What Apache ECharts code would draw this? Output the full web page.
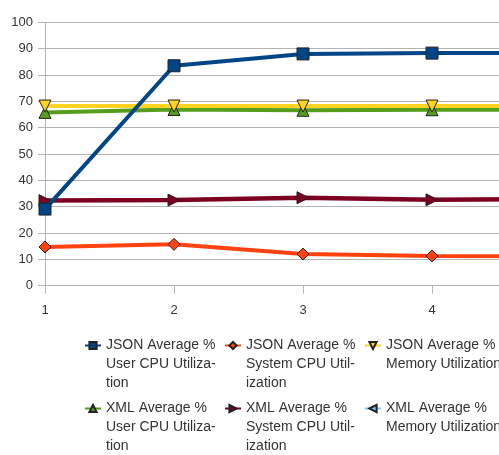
<!DOCTYPE html>
<html>
<head>
<meta charset="utf-8">
<script src="https://cdn.jsdelivr.net/npm/echarts@6/dist/echarts.min.js"></script>
<style>
html,body{margin:0;padding:0;background:#fff;overflow:hidden;}
#c{width:620px;height:455px;}
</style>
</head>
<body>
<div id="c"></div>
<script>
const categories = ['1', '2', '3', '4', '5'];
const yTicks = { min: 0, max: 100, interval: 10 };

const jsonUserCpu = [29.1, 83.5, 88.0, 88.3, 88.3];
const jsonSystemCpu = [14.7, 15.7, 12.0, 11.3, 11.2];
const jsonMemory = [68.2, 68.2, 68.2, 68.2, 68.2];
const xmlUserCpu = [65.8, 66.9, 66.6, 66.8, 66.8];
const xmlSystemCpu = [32.3, 32.5, 33.4, 32.6, 32.9];
const xmlMemory = [null, null, null, null, null];

const seriesNames = [
  'JSON Average % User CPU Utilization',
  'JSON Average % System CPU Utilization',
  'JSON Average % Memory Utilization',
  'XML Average % User CPU Utilization',
  'XML Average % System CPU Utilization',
  'XML Average % Memory Utilization'
];
const legendLines = [
  ['JSON Average %', 'User CPU Utiliza-', 'tion'],
  ['JSON Average %', 'System CPU Util-', 'ization'],
  ['JSON Average %', 'Memory Utilization'],
  ['XML Average %', 'User CPU Utiliza-', 'tion'],
  ['XML Average %', 'System CPU Util-', 'ization'],
  ['XML Average %', 'Memory Utilization']
];
const seriesData = [jsonUserCpu, jsonSystemCpu, jsonMemory, xmlUserCpu, xmlSystemCpu, xmlMemory];
const colors = ['#004586', '#ff420e', '#ffd320', '#579d1c', '#7e0021', '#83caff'];
const symbols = ['rect', 'diamond', 'triangle', 'triangle', 'triangle', 'triangle'];
const rotations = [0, 0, 180, 0, -90, 90];
const lineWidths = [4, 4, 4, 4, 4.5, 4];

const FONT = 'Liberation Sans';
const legendPos = [[84, 298], [224, 298], [364, 298], [84, 361], [224, 361], [364, 361]];

const series = seriesNames.map((n, i) => ({
  name: n,
  type: 'line',
  data: seriesData[i],
  z: 10 - i,
  symbol: symbols[i],
  symbolRotate: rotations[i],
  symbolSize: 12,
  showAllSymbol: true,
  lineStyle: { width: lineWidths[i], color: colors[i] },
  itemStyle: { color: colors[i], borderColor: '#222', borderWidth: 1 },
  emphasis: { disabled: true },
  animation: false
}));

const legends = seriesNames.map((n, i) => {
  const lines = legendLines[i].slice();
  while (lines.length < 3) lines.push('');
  const txt = '\n\n' + lines.join('\n');
  return {
    data: [n],
    left: legendPos[i][0],
    top: legendPos[i][1],
    padding: 0,
    itemWidth: 16,
    itemHeight: 9,
    selectedMode: false,
    formatter: () => txt,
    textStyle: { fontFamily: FONT, fontSize: 14, lineHeight: 19, color: '#333' }
  };
});

const chart = echarts.init(document.getElementById('c'), null, { renderer: 'canvas' });
chart.setOption({
  backgroundColor: '#fff',
  animation: false,
  color: colors,
  grid: { left: 45, right: 59, top: 22.3, bottom: 169.3, containLabel: false },
  legend: legends,
  xAxis: {
    type: 'category',
    data: categories,
    boundaryGap: false,
    axisLine: { lineStyle: { color: '#b3b3b3', width: 1 } },
    axisTick: { show: true, length: 8, lineStyle: { color: '#b3b3b3' } },
    axisLabel: { margin: 18, fontFamily: FONT, fontSize: 13, color: '#333' },
    splitLine: { show: false }
  },
  yAxis: {
    type: 'value',
    min: yTicks.min,
    max: yTicks.max,
    interval: yTicks.interval,
    axisLine: { show: true, lineStyle: { color: '#b3b3b3', width: 1 } },
    axisTick: { show: true, length: 7, lineStyle: { color: '#b3b3b3' } },
    axisLabel: { margin: 12, fontFamily: FONT, fontSize: 13, color: '#333' },
    splitLine: { show: true, lineStyle: { color: '#b3b3b3', width: 1 } }
  },
  series: series
});
</script>
</body>
</html>
